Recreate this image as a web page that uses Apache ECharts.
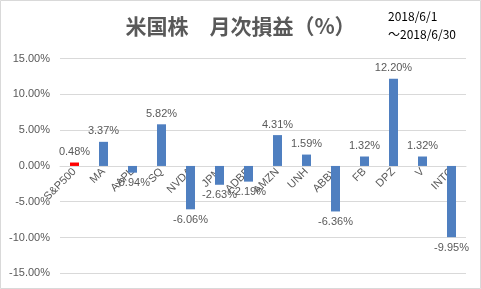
<!DOCTYPE html>
<html>
<head>
<meta charset="utf-8">
<script src="https://cdn.jsdelivr.net/npm/echarts@6/dist/echarts.min.js"></script>
<style>
  html, body { margin: 0; padding: 0; background: #fff; }
  #chart { width: 481px; height: 289px; }
</style>
</head>
<body>
<div id="chart"></div>
<script>
var chart = echarts.init(document.getElementById('chart'));

// 銘柄
var tickers = ['S&P500', 'MA', 'AAPL', 'SQ', 'NVDA', 'JPM', 'ADBE', 'AMZN', 'UNH', 'ABBV', 'FB', 'DPZ', 'V', 'INTC'];
// 月次損益(%)
var returns = [0.48, 3.37, -0.94, 5.82, -6.06, -2.63, -2.19, 4.31, 1.59, -6.36, 1.32, 12.20, 1.32, -9.95];
// 縦軸
var yTicks = [-15, -10, -5, 0, 5, 10, 15];

var numFont = 'Liberation Sans';
var gridTop = 58.6, gridBottom = 15.7;
// 横軸を0%の位置へ移動
var plotH = 289 - gridTop - gridBottom;
var zeroOffset = -plotH * (0 - yTicks[0]) / (yTicks[yTicks.length - 1] - yTicks[0]);

var option = {
    animation: false,
    backgroundColor: '#fff',
    title: {
        text: '米国株　月次損益（%）',
        left: 'center',
        top: 11,
        textStyle: {
            fontFamily: 'Noto Sans CJK JP',
            fontSize: 21,
            fontWeight: 'bold',
            color: '#595959'
        }
    },
    graphic: [
        {
            type: 'rect',
            shape: { x: 0.5, y: 0.5, width: 480, height: 288 },
            style: { fill: 'none', stroke: '#d9d9d9', lineWidth: 1 },
            silent: true
        },
        {
            type: 'text',
            left: 388,
            top: 7,
            style: {
                text: '2018/6/1\n～2018/6/30',
                fontFamily: 'Noto Sans CJK JP',
                fontSize: 12,
                lineHeight: 18,
                fill: '#000'
            }
        }
    ],
    grid: {
        left: 60,
        right: 15,
        top: gridTop,
        bottom: gridBottom,
        containLabel: false
    },
    xAxis: {
        type: 'category',
        data: tickers,
        position: 'bottom',
        offset: zeroOffset,
        axisLine: { onZero: false, lineStyle: { color: '#d9d9d9' } },
        axisTick: { show: false },
        axisLabel: {
            interval: 0,
            rotate: 45,
            margin: 4,
            fontFamily: numFont,
            fontSize: 11,
            color: '#595959'
        }
    },
    yAxis: {
        type: 'value',
        min: yTicks[0],
        max: yTicks[yTicks.length - 1],
        interval: 5,
        axisLine: { show: false },
        axisTick: { show: false },
        splitLine: { lineStyle: { color: '#d9d9d9' } },
        axisLabel: {
            margin: 10,
            fontFamily: numFont,
            fontSize: 11,
            color: '#595959',
            formatter: function (v) { return v.toFixed(2) + '%'; }
        }
    },
    series: [
        {
            type: 'bar',
            data: returns.map(function (v, i) {
                return {
                    value: v,
                    itemStyle: { color: i === 0 ? '#ff0000' : '#4f7fc0' },
                    label: { position: v >= 0 ? 'top' : 'bottom' }
                };
            }),
            barWidth: 9,
            z: 3,
            label: {
                show: true,
                distance: 5,
                fontFamily: numFont,
                fontSize: 11,
                color: '#595959',
                formatter: function (p) { return p.value.toFixed(2) + '%'; }
            }
        }
    ]
};

chart.setOption(option);
</script>
</body>
</html>
